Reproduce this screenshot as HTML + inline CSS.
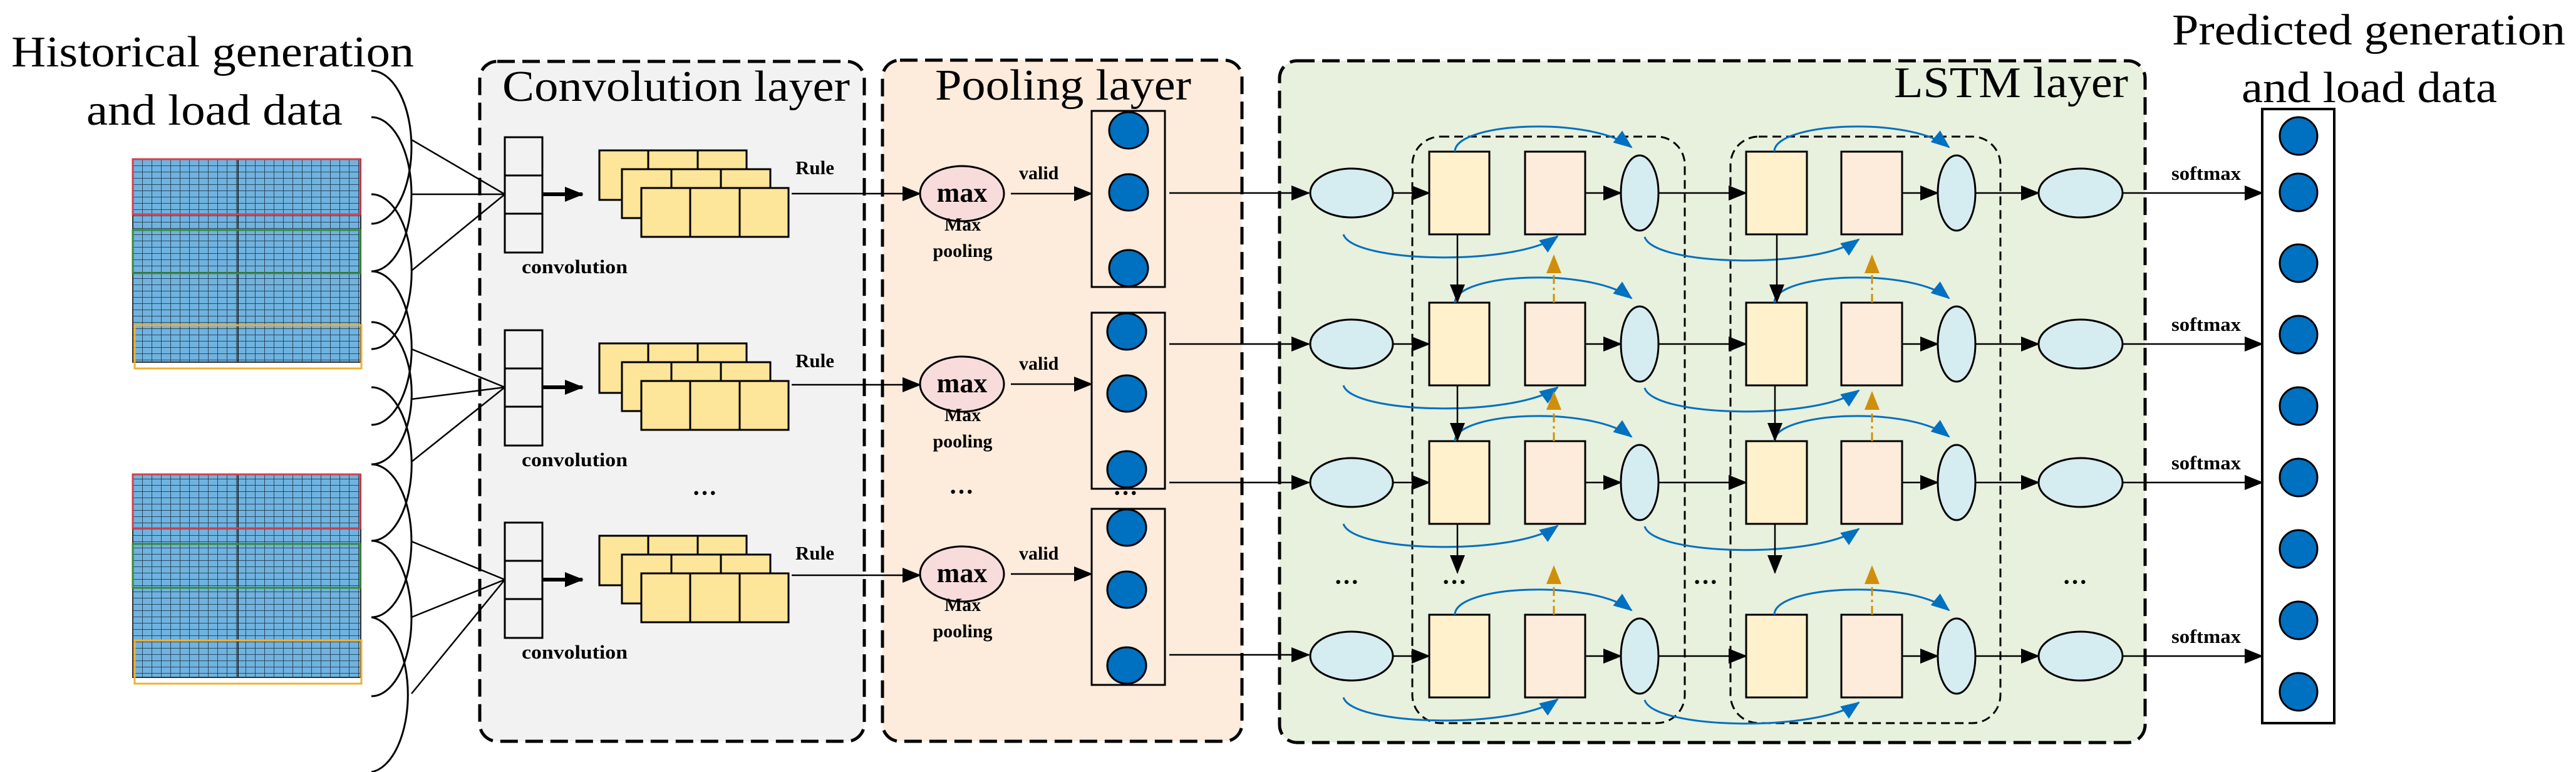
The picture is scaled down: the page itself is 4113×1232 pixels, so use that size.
<!DOCTYPE html>
<html><head><meta charset="utf-8"><style>
html,body{margin:0;padding:0;background:#fff}
svg{display:block}
</style></head><body>
<svg width="4113" height="1232" viewBox="0 0 4113 1232" xmlns="http://www.w3.org/2000/svg" font-family="'Liberation Serif', 'DejaVu Serif', serif" style="font-family:'Liberation Serif','DejaVu Serif',serif">
<defs>
<marker id="ah" markerUnits="userSpaceOnUse" markerWidth="30" markerHeight="24" refX="28" refY="12" orient="auto"><path d="M0,0 L30,12 L0,24 Z" fill="#000"/></marker>
<marker id="ahb" markerUnits="userSpaceOnUse" markerWidth="30" markerHeight="24" refX="28" refY="12" orient="auto"><path d="M0,0 L30,12 L0,24 Z" fill="#0070c0"/></marker>
<marker id="aho" markerUnits="userSpaceOnUse" markerWidth="30" markerHeight="24" refX="28" refY="12" orient="auto"><path d="M0,0 L30,12 L0,24 Z" fill="#d08f0a"/></marker>
<pattern id="grid" patternUnits="userSpaceOnUse" x="212" y="254" width="15" height="10"><rect width="15" height="10" fill="#6fb3e0"/><path d="M0,0 V10 M0,0 H15" stroke="#2a3a4a" stroke-width="1.8"/></pattern>
</defs>

<!-- titles -->
<text x="18" y="106" font-size="70" textLength="643" lengthAdjust="spacingAndGlyphs">Historical generation</text>
<text x="138" y="199" font-size="70" textLength="409" lengthAdjust="spacingAndGlyphs">and load data</text>
<text x="3468" y="71" font-size="70" textLength="628" lengthAdjust="spacingAndGlyphs">Predicted generation</text>
<text x="3579" y="163" font-size="70" textLength="408" lengthAdjust="spacingAndGlyphs">and load data</text>

<!-- grids -->
<g>
<rect x="212" y="254" width="364" height="324" fill="url(#grid)" stroke="#333" stroke-width="2"/>
<line x1="380" y1="254" x2="380" y2="578" stroke="#222" stroke-width="2"/>
<rect x="212" y="254" width="363" height="88" fill="none" stroke="#d04050" stroke-width="3"/>
<rect x="212" y="367" width="363" height="69" fill="none" stroke="#3a8a3a" stroke-width="3"/>
<rect x="215" y="519" width="362" height="69" fill="none" stroke="#f0b030" stroke-width="3"/>
<rect x="212" y="757" width="364" height="324" fill="url(#grid)" stroke="#333" stroke-width="2"/>
<line x1="380" y1="757" x2="380" y2="1081" stroke="#222" stroke-width="2"/>
<rect x="212" y="757" width="363" height="86" fill="none" stroke="#d04050" stroke-width="3"/>
<rect x="212" y="868" width="363" height="70" fill="none" stroke="#3a8a3a" stroke-width="3"/>
<rect x="215" y="1022" width="362" height="69" fill="none" stroke="#f0b030" stroke-width="3"/>
</g>

<!-- arcs -->
<g fill="none" stroke="#000" stroke-width="3">
<path d="M593,113 A64,122 0 0 1 593,357"/>
<path d="M593,187 A64,123 0 0 1 593,433"/>
<path d="M593,310 A64,123 0 0 1 593,557"/>
<path d="M593,433 A64,122 0 0 1 593,678"/>
<path d="M593,514 A64,113 0 0 1 593,741"/>
<path d="M593,618 A64,122 0 0 1 593,863"/>
<path d="M593,741 A64,122 0 0 1 593,985"/>
<path d="M593,863 A64,124 0 0 1 593,1111"/>
<path d="M593,985 A64,124 0 0 1 593,1232"/>
</g>

<!-- conv layer -->
<rect x="766" y="98" width="614" height="1085" rx="28" fill="#f2f2f2" stroke="#000" stroke-width="5" stroke-dasharray="28,12"/>
<text x="802" y="161" font-size="70" textLength="555" lengthAdjust="spacingAndGlyphs">Convolution layer</text>
<g stroke="#000" stroke-width="2.5">
<line x1="657" y1="223" x2="806" y2="310"/><line x1="657" y1="310" x2="806" y2="310"/><line x1="657" y1="432" x2="806" y2="310"/>
<line x1="657" y1="557" x2="806" y2="618"/><line x1="657" y1="637" x2="806" y2="618"/><line x1="657" y1="737" x2="806" y2="618"/>
<line x1="657" y1="864" x2="806" y2="925"/><line x1="657" y1="985" x2="806" y2="925"/><line x1="657" y1="1107" x2="806" y2="925"/>
</g>
<g id="cg1">
<rect x="806" y="219" width="60" height="184" fill="#f2f2f2" stroke="#000" stroke-width="3"/>
<line x1="806" y1="280" x2="866" y2="280" stroke="#000" stroke-width="3"/><line x1="806" y1="341" x2="866" y2="341" stroke="#000" stroke-width="3"/>
<line x1="866" y1="310" x2="930" y2="310" stroke="#000" stroke-width="6" marker-end="url(#ah)"/>
<g fill="#fde599" stroke="#000" stroke-width="3">
<rect x="957" y="240" width="235" height="79"/><line x1="1035" y1="240" x2="1035" y2="319"/><line x1="1114" y1="240" x2="1114" y2="319"/>
<rect x="993" y="270" width="237" height="78"/><line x1="1072" y1="270" x2="1072" y2="348"/><line x1="1151" y1="270" x2="1151" y2="348"/>
<rect x="1024" y="300" width="235" height="78"/><line x1="1102" y1="300" x2="1102" y2="378"/><line x1="1181" y1="300" x2="1181" y2="378"/>
</g>
<text x="833" y="436" font-size="31" font-weight="bold" textLength="169" lengthAdjust="spacingAndGlyphs">convolution</text>
<text x="1270" y="278" font-size="31" font-weight="bold">Rule</text>
</g>
<use href="#cg1" y="308"/>
<use href="#cg1" y="615"/>
<text x="1105" y="800" font-size="40" font-weight="bold">···</text>

<!-- pooling layer -->
<rect x="1409" y="96" width="574" height="1087" rx="28" fill="#fdebdc" stroke="#000" stroke-width="5" stroke-dasharray="28,12"/>
<text x="1493" y="159" font-size="70" textLength="409" lengthAdjust="spacingAndGlyphs">Pooling layer</text>
<g stroke="#000" stroke-width="2.5">
<line x1="1264" y1="309" x2="1469" y2="309" marker-end="url(#ah)"/>
<line x1="1264" y1="614" x2="1469" y2="614" marker-end="url(#ah)"/>
<line x1="1264" y1="918" x2="1469" y2="918" marker-end="url(#ah)"/>
</g>
<g id="pg1">
<ellipse cx="1536" cy="309" rx="67" ry="44" fill="#f8dcdc" stroke="#000" stroke-width="3"/>
<text x="1536" y="322" font-size="44" font-weight="bold" text-anchor="middle">max</text>
<text x="1537" y="368" font-size="30" font-weight="bold" text-anchor="middle">Max</text>
<text x="1537" y="410" font-size="30" font-weight="bold" text-anchor="middle">pooling</text>
<text x="1627" y="286" font-size="30" font-weight="bold">valid</text>
<line x1="1614" y1="309" x2="1743" y2="309" stroke="#000" stroke-width="2.5" marker-end="url(#ah)"/>
</g>
<use href="#pg1" y="304"/>
<use href="#pg1" y="607"/>
<text x="1515" y="798" font-size="40" font-weight="bold">···</text>
<text x="1777" y="800" font-size="40" font-weight="bold">···</text>
<g fill="#0070c0" stroke="#000" stroke-width="3">
<rect x="1743" y="177" width="117" height="281" fill="#fdebdc"/>
<ellipse cx="1802" cy="208" rx="31" ry="29"/><ellipse cx="1802" cy="307" rx="31" ry="29"/><ellipse cx="1802" cy="428" rx="31" ry="29"/>
<rect x="1743" y="499" width="117" height="281" fill="#fdebdc"/>
<ellipse cx="1799" cy="529" rx="31" ry="29"/><ellipse cx="1799" cy="628" rx="31" ry="29"/><ellipse cx="1799" cy="749" rx="31" ry="29"/>
<rect x="1743" y="812" width="117" height="281" fill="#fdebdc"/>
<ellipse cx="1799" cy="842" rx="31" ry="29"/><ellipse cx="1799" cy="941" rx="31" ry="29"/><ellipse cx="1799" cy="1062" rx="31" ry="29"/>
</g>

<!-- LSTM layer -->
<rect x="2043" y="97" width="1382" height="1088" rx="28" fill="#e8f0de" stroke="#000" stroke-width="5" stroke-dasharray="28,12"/>
<text x="3024" y="155" font-size="70" textLength="374" lengthAdjust="spacingAndGlyphs">LSTM layer</text>
<g stroke="#000" stroke-width="2.5">
<line x1="1867" y1="308" x2="2090" y2="308" marker-end="url(#ah)"/>
<line x1="1867" y1="549" x2="2090" y2="549" marker-end="url(#ah)"/>
<line x1="1867" y1="770" x2="2090" y2="770" marker-end="url(#ah)"/>
<line x1="1867" y1="1045" x2="2090" y2="1045" marker-end="url(#ah)"/>
</g>
<rect x="2255" y="218" width="435" height="936" rx="45" fill="none" stroke="#000" stroke-width="3" stroke-dasharray="14,8"/>
<rect x="2763" y="218" width="431" height="936" rx="45" fill="none" stroke="#000" stroke-width="3" stroke-dasharray="14,8"/>

<g id="row">
<ellipse cx="2158" cy="308" rx="66" ry="39" fill="#d5ecf0" stroke="#000" stroke-width="3"/>
<line x1="2224" y1="308" x2="2282" y2="308" stroke="#000" stroke-width="2.5" marker-end="url(#ah)"/>
<rect x="2282" y="242" width="96" height="132" fill="#fff1cc" stroke="#000" stroke-width="3"/>
<rect x="2435" y="242" width="96" height="132" fill="#fdebdc" stroke="#000" stroke-width="3"/>
<line x1="2531" y1="308" x2="2588" y2="308" stroke="#000" stroke-width="2.5" marker-end="url(#ah)"/>
<ellipse cx="2618" cy="308" rx="30" ry="60" fill="#d5ecf0" stroke="#000" stroke-width="3"/>
<line x1="2648" y1="308" x2="2788" y2="308" stroke="#000" stroke-width="2.5" marker-end="url(#ah)"/>
<rect x="2788" y="242" width="97" height="132" fill="#fff1cc" stroke="#000" stroke-width="3"/>
<rect x="2940" y="242" width="97" height="132" fill="#fdebdc" stroke="#000" stroke-width="3"/>
<line x1="3037" y1="308" x2="3094" y2="308" stroke="#000" stroke-width="2.5" marker-end="url(#ah)"/>
<ellipse cx="3124" cy="308" rx="30" ry="60" fill="#d5ecf0" stroke="#000" stroke-width="3"/>
<line x1="3154" y1="308" x2="3255" y2="308" stroke="#000" stroke-width="2.5" marker-end="url(#ah)"/>
<ellipse cx="3322" cy="308" rx="67" ry="39" fill="#d5ecf0" stroke="#000" stroke-width="3"/>
<line x1="3389" y1="308" x2="3612" y2="308" stroke="#000" stroke-width="2.5" marker-end="url(#ah)"/>
<g fill="none" stroke="#0070c0" stroke-width="3">
<path d="M2323,242 C2323,195 2540,185 2605,235" marker-end="url(#ahb)"/>
<path d="M2833,242 C2833,195 3050,185 3112,235" marker-end="url(#ahb)"/>
<path d="M2145,374 C2160,420 2420,425 2487,377" marker-end="url(#ahb)"/>
<path d="M2626,378 C2640,425 2900,430 2968,382" marker-end="url(#ahb)"/>
</g>
<text x="3467" y="287" font-size="31" font-weight="bold" textLength="111" lengthAdjust="spacingAndGlyphs">softmax</text>
</g>
<use href="#row" y="241"/>
<use href="#row" y="462"/>
<use href="#row" y="739"/>

<!-- vertical arrows -->
<g stroke="#000" stroke-width="2.5">
<line x1="2327" y1="374" x2="2327" y2="482" marker-end="url(#ah)"/>
<line x1="2327" y1="615" x2="2327" y2="703" marker-end="url(#ah)"/>
<line x1="2327" y1="836" x2="2327" y2="914" marker-end="url(#ah)"/>
<line x1="2837" y1="374" x2="2837" y2="482" marker-end="url(#ah)"/>
<line x1="2834" y1="615" x2="2834" y2="703" marker-end="url(#ah)"/>
<line x1="2834" y1="836" x2="2834" y2="914" marker-end="url(#ah)"/>
</g>
<g stroke="#d08f0a" stroke-width="3" stroke-dasharray="14,6,4,6">
<line x1="2481" y1="483" x2="2481" y2="408" marker-end="url(#aho)"/>
<line x1="2481" y1="704" x2="2481" y2="626" marker-end="url(#aho)"/>
<line x1="2481" y1="981" x2="2481" y2="904" marker-end="url(#aho)"/>
<line x1="2989" y1="483" x2="2989" y2="408" marker-end="url(#aho)"/>
<line x1="2989" y1="704" x2="2989" y2="626" marker-end="url(#aho)"/>
<line x1="2989" y1="981" x2="2989" y2="904" marker-end="url(#aho)"/>
</g>
<g font-size="40" font-weight="bold">
<text x="2130" y="942">···</text><text x="2302" y="942">···</text><text x="2703" y="942">···</text><text x="3293" y="942">···</text>
</g>

<!-- output column -->
<rect x="3612" y="174" width="115" height="980" fill="#fff" stroke="#000" stroke-width="4"/>
<g fill="#0070c0" stroke="#000" stroke-width="3">
<ellipse cx="3670" cy="217" rx="30" ry="30"/><ellipse cx="3670" cy="307" rx="30" ry="30"/>
<ellipse cx="3670" cy="420" rx="30" ry="30"/><ellipse cx="3670" cy="534" rx="30" ry="30"/>
<ellipse cx="3670" cy="648" rx="30" ry="30"/><ellipse cx="3670" cy="762" rx="30" ry="30"/>
<ellipse cx="3670" cy="876" rx="30" ry="30"/><ellipse cx="3670" cy="990" rx="30" ry="30"/>
<ellipse cx="3670" cy="1104" rx="30" ry="30"/>
</g>
</svg>
</body></html>
